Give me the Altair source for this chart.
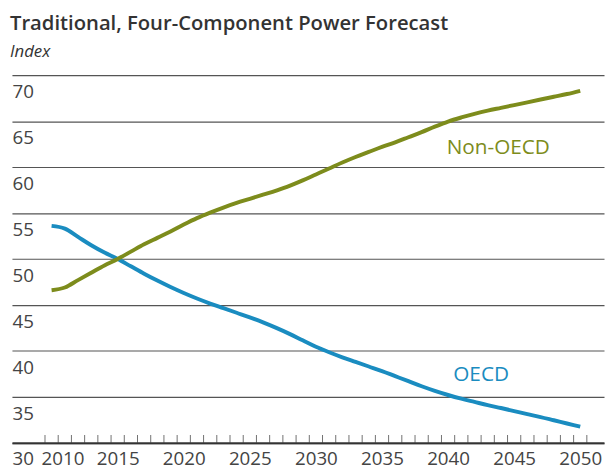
import altair as alt
import pandas as pd

FONT = "Open Sans"

years = list(range(2010, 2051))
oecd = [53.6, 53.3, 52.4, 51.5, 50.7, 50.0, 49.2, 48.4, 47.65, 46.95,
        46.3, 45.7, 45.15, 44.65, 44.15, 43.65, 43.1, 42.5, 41.85, 41.15,
        40.45, 39.85, 39.3, 38.8, 38.3, 37.8, 37.25, 36.7, 36.15, 35.65,
        35.2, 34.8, 34.45, 34.1, 33.78, 33.45, 33.12, 32.8, 32.45, 32.1,
        31.75]
non_oecd = [46.6, 46.9, 47.7, 48.5, 49.3, 50.0, 50.8, 51.6, 52.3, 53.0,
            53.75, 54.45, 55.05, 55.6, 56.1, 56.55, 57.0, 57.45, 57.95, 58.55,
            59.2, 59.85, 60.5, 61.1, 61.65, 62.2, 62.7, 63.25, 63.8, 64.4,
            64.95, 65.4, 65.8, 66.15, 66.45, 66.75, 67.05, 67.35, 67.65, 67.95,
            68.3]
series_names = ["OECD", "Non-OECD"]
series_colors = ["#1a8cc0", "#7d8c1c"]
y_ticks = [30, 35, 40, 45, 50, 55, 60, 65, 70]
x_labels = [2010, 2015, 2020, 2025, 2030, 2035, 2040, 2045, 2050]
minor_ticks = [y + 0.5 for y in range(2009, 2051)]

df = pd.DataFrame({
    "year": years * 2,
    "value": oecd + non_oecd,
    "series": [series_names[0]] * len(years) + [series_names[1]] * len(years),
})
ticks_df = pd.DataFrame({"year": minor_ticks})

W, H = 600, 372.5
xscale = alt.Scale(domain=[2007.0, 2051.8], nice=False, zero=False)
yscale = alt.Scale(domain=[30, 70], nice=False, zero=False)
color_scale = alt.Scale(domain=series_names, range=series_colors)

y_enc = alt.Y("value:Q", scale=yscale, title=None,
              axis=alt.Axis(values=y_ticks, grid=True, gridColor="#555", gridWidth=1.2,
                            domain=False, ticks=False, tickSize=0, labelAlign="left",
                            labelBaseline="alphabetic", labelOffset=22.5, labelPadding=0,
                            labelFont=FONT, labelFontSize=19, labelColor="#444"))

lines = alt.Chart(df).mark_line(strokeWidth=4, interpolate="monotone").encode(
    x=alt.X("year:Q", scale=xscale, title=None,
            axis=alt.Axis(values=x_labels, format="d", ticks=False, tickSize=0,
                          domain=True, domainColor="#333", domainWidth=2, grid=False,
                          labelPadding=22, labelBaseline="alphabetic", labelFlush=False,
                          labelOverlap=False, labelFont=FONT, labelFontSize=19,
                          labelColor="#444",
                          labelOffset={"condition": {"test": "datum.value == 2010", "value": 11}, "value": 0})),
    y=y_enc,
    color=alt.Color("series:N", scale=color_scale, legend=None),
)

minor = alt.Chart(ticks_df).mark_tick(orient="vertical", size=8, thickness=1,
                                      color="#333", yOffset=-4).encode(
    x=alt.X("year:Q", scale=xscale),
    y=alt.datum(30),
)

lab_non = alt.Chart().mark_text(font=FONT, fontSize=21, align="center",
                                baseline="alphabetic", color=series_colors[1]).encode(
    x=alt.datum(2043.8), y=alt.datum(61.4), text=alt.value(series_names[1]))
lab_oecd = alt.Chart().mark_text(font=FONT, fontSize=21, align="center",
                                 baseline="alphabetic", color=series_colors[0]).encode(
    x=alt.datum(2042.5), y=alt.datum(36.7), text=alt.value(series_names[0]))

chart = alt.layer(lines, minor, lab_non, lab_oecd).properties(
    width=W, height=H,
    autosize=alt.AutoSizeParams(type="none"),
    padding={"left": 4, "top": 65, "right": 1, "bottom": 26},
    title=alt.Title("Traditional, Four-Component Power Forecast", subtitle="Index",
                    anchor="start", frame="group", font=FONT, fontSize=20.5, fontWeight=600,
                    color="#333", subtitleFont=FONT, subtitleFontSize=17,
                    subtitleFontStyle="italic", subtitleColor="#333",
                    subtitlePadding=10, offset=15, dx=-2),
).configure_view(stroke=None)

chart.save("out.html", embed_options={"renderer": "svg", "actions": False})
